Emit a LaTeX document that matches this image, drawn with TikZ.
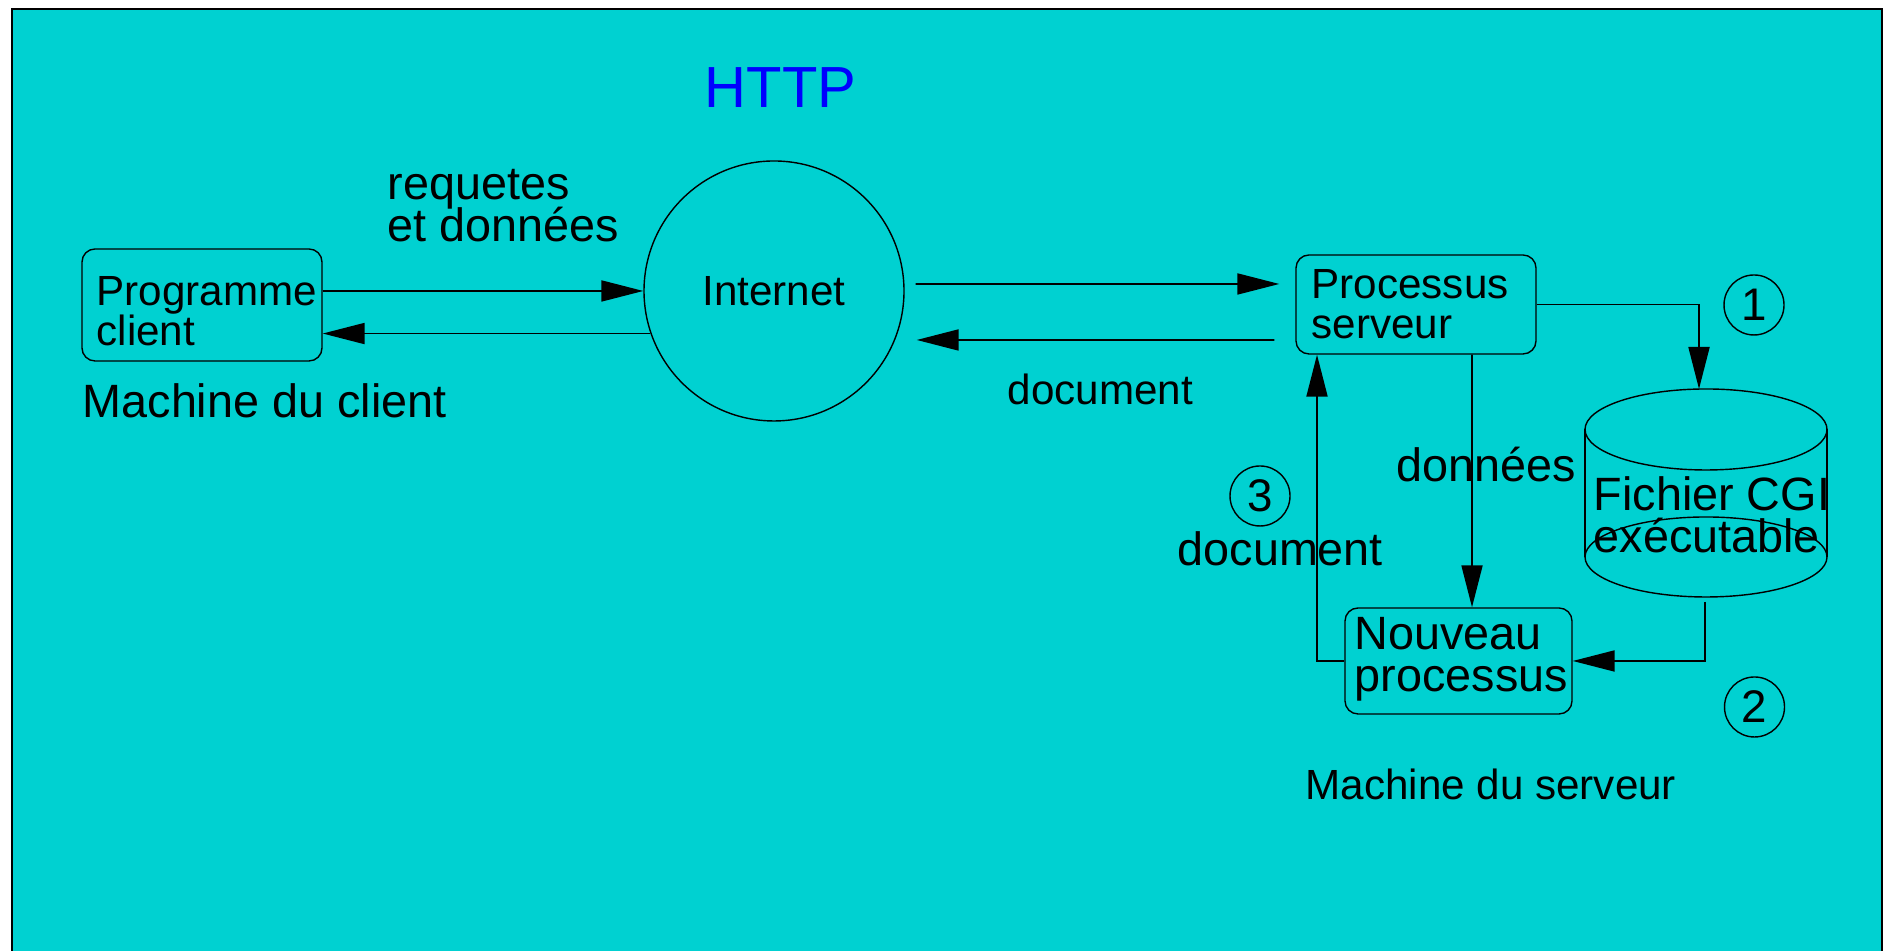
\documentclass[tikz,border=0pt]{standalone}
\usepackage{fontspec}
\setmainfont{Liberation Sans}
\usetikzlibrary{arrows.meta}

\definecolor{figcyan}{RGB}{0,209,209}
\definecolor{httpblue}{RGB}{0,0,255}

% lignes serrees, sans interligne de secours
\lineskiplimit=-10pt

\tikzset{
  boite/.style={draw,line width=0.4pt,rounded corners=0.13cm,inner sep=0pt},
  texte/.style={inner sep=0pt,anchor=base west,align=left},
  fleche/.style={line width=0.55pt,-{Triangle[length=0.42cm,width=0.21cm]}},
  etape/.style={draw,circle,line width=0.4pt,minimum size=0.6cm,inner sep=0pt,
    font=\fontsize{13}{13}\selectfont},
  petit/.style={font=\fontsize{12}{11.6}\selectfont},
  grand/.style={font=\fontsize{13.3}{12}\selectfont},
}

\begin{document}
\begin{tikzpicture}
  \useasboundingbox (0,0) rectangle (18.88,9.51);
  \fill[white] (0,0) rectangle (18.88,9.51);
  \fill[figcyan] (0.12,0) rectangle (18.82,9.42);
  \draw[line width=0.6pt] (0.12,0) -- (0.12,9.42) -- (18.82,9.42) -- (18.82,0);

  % cote client
  \node[boite,minimum width=2.4cm,minimum height=1.12cm] (client) at (2.02,6.46) {};
  \node[texte,petit] (clienttxt) at (0.96,6.05) {Programme\\client};
  \node[texte,grand] (mclient) at (0.82,5.33) {Machine du client};

  % le reseau
  \node[draw,circle,line width=0.4pt,minimum size=2.6cm,petit] (net) at (7.74,6.60) {Internet};
  \node[texte,font=\fontsize{16.5}{16.5}\selectfont,text=httpblue] (http) at (7.04,8.43) {HTTP};
  \node[texte,grand] (req) at (3.87,7.09) {requetes\\et données};

  % cote serveur
  \node[boite,minimum width=2.4cm,minimum height=0.99cm] (proc) at (14.16,6.465) {};
  \node[texte,petit] (proctxt) at (13.11,6.12) {Processus\\serveur};
  \node[boite,minimum width=2.27cm,minimum height=1.06cm] (nouv) at (14.585,2.90) {};
  \node[texte,grand] (nouvtxt) at (13.54,2.59) {Nouveau\\processus};

  % fichier cgi (cylindre)
  \draw[line width=0.4pt] (17.06,5.215) ellipse (1.21 and 0.405);
  \draw[line width=0.4pt] (17.06,3.94) ellipse (1.21 and 0.40);
  \draw[line width=0.4pt] (15.85,5.215) -- (15.85,3.94) (18.27,5.215) -- (18.27,3.94);
  \coordinate (cgihaut) at (16.99,5.62);
  \coordinate (cgibas) at (17.05,3.49);
  \node[texte,grand] (cgi) at (15.93,3.98) {Fichier CGI\\exécutable};

  \node[texte,petit] (doc1) at (10.07,5.46) {document};
  \node[texte,grand] (donnees) at (13.96,4.69) {données};
  \node[texte,grand] (doc2) at (11.77,3.85) {document};
  \node[texte,petit] (mserv) at (13.05,1.51) {Machine du serveur};

  \node[etape] (e1) at (17.54,6.46) {1};
  \node[etape] (e2) at (17.545,2.44) {2};
  \node[etape] (e3) at (12.60,4.55) {3};

  % echanges
  \draw[fleche] (client.east |- net.west) -- (net.west);
  \draw[fleche] (net.199) -- (net.199 -| client.east);
  \draw[fleche,shorten <=1.1mm,shorten >=1.6mm] ([yshift=0.7mm]net.east) -- ([yshift=2.05mm]proc.west);
  \draw[fleche,shorten <=2.1mm,shorten >=1.2mm] ([yshift=-3.55mm]proc.west) -- ([yshift=-4.9mm]net.east);
  \draw[fleche] (proc.east) -| (cgihaut);
  \draw[fleche] (cgibas) |- (nouv.east);
  \draw[fleche] ([xshift=5.6mm]proc.south) -- ([xshift=1.35mm]nouv.north);
  \draw[fleche] (nouv.west) -| ([xshift=-9.9mm]proc.south);
\end{tikzpicture}
\end{document}
